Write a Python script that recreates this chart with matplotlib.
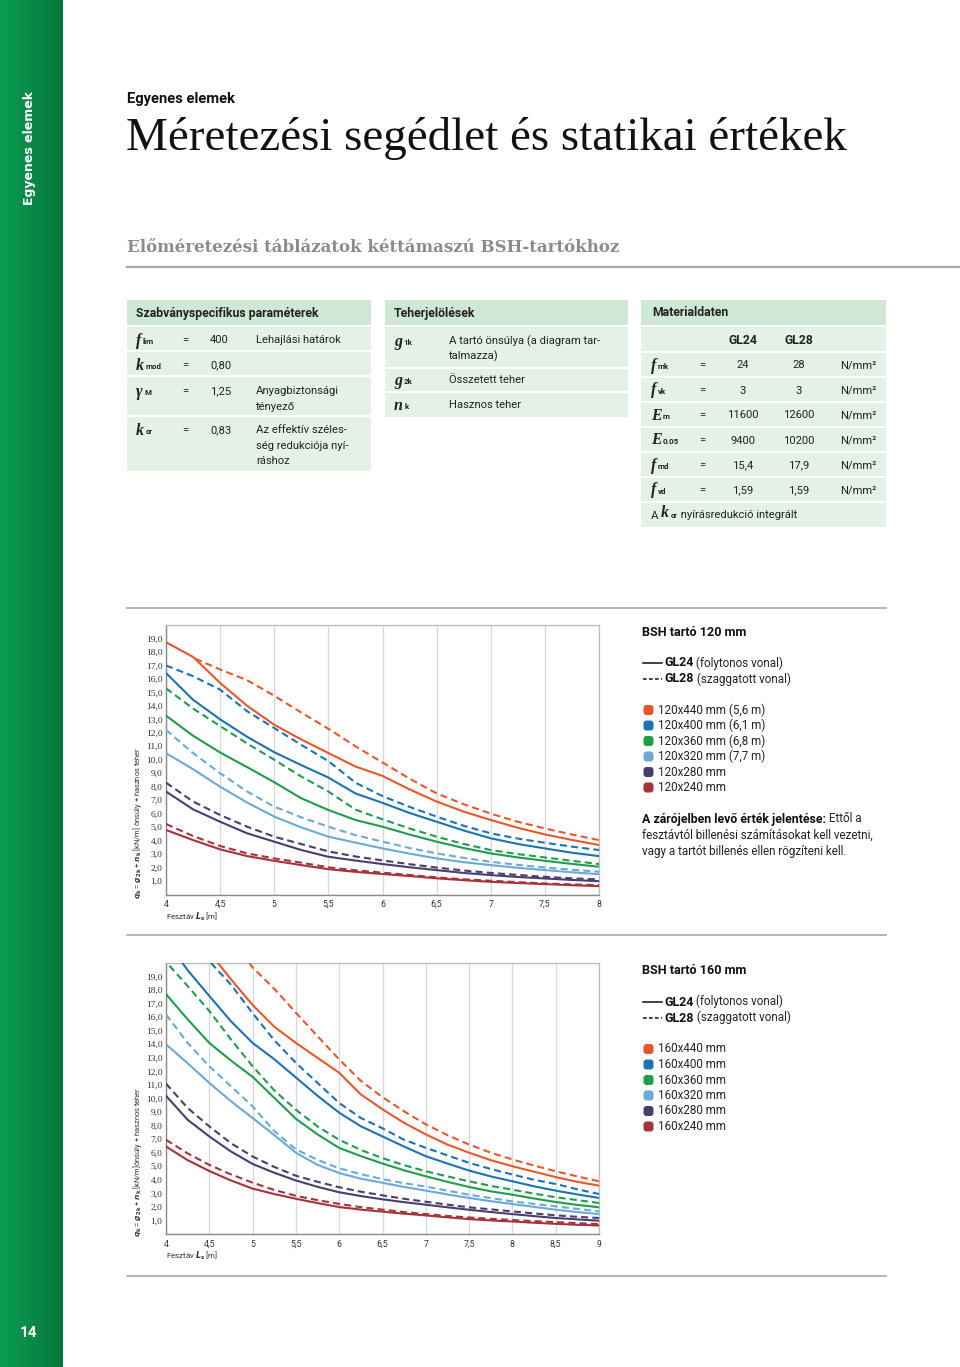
import matplotlib
matplotlib.use("Agg")
import matplotlib.pyplot as plt
import numpy as np
from matplotlib.patches import Rectangle, FancyBboxPatch
from matplotlib.colors import LinearSegmentedColormap

# ---------------- data ----------------
COLORS = ["#e8572b", "#1b72b6", "#1f9d4b", "#6ba9d6", "#4a3e70", "#a6333b"]

SIZES_120 = ["120x440 mm (5,6 m)", "120x400 mm (6,1 m)", "120x360 mm (6,8 m)",
             "120x320 mm (7,7 m)", "120x280 mm", "120x240 mm"]
SIZES_160 = ["160x440 mm", "160x400 mm", "160x360 mm", "160x320 mm", "160x280 mm", "160x240 mm"]

X1 = [4.0, 4.25, 4.5, 4.75, 5.0, 5.25, 5.5, 5.75, 6.0, 6.25, 6.5, 6.75, 7.0, 7.25, 7.5, 7.75, 8.0]
GL24_120 = [
    [18.72, 17.63, 15.7, 14.0, 12.6, 11.5, 10.5, 9.5, 8.8, 7.8, 6.9, 6.15, 5.53, 4.95, 4.46, 4.05, 3.67],
    [16.44, 14.45, 13.0, 11.7, 10.56, 9.6, 8.68, 7.5, 6.8, 6.05, 5.4, 4.75, 4.17, 3.75, 3.42, 3.1, 2.85],
    [13.27, 11.78, 10.54, 9.45, 8.33, 7.14, 6.27, 5.53, 5.03, 4.45, 3.92, 3.45, 3.05, 2.75, 2.5, 2.27, 2.06],
    [10.49, 9.3, 8.0, 6.82, 5.78, 4.98, 4.29, 3.85, 3.42, 3.03, 2.68, 2.4, 2.18, 1.98, 1.81, 1.65, 1.51],
    [7.64, 6.32, 5.4, 4.54, 3.92, 3.3, 2.8, 2.52, 2.26, 2.02, 1.81, 1.6, 1.44, 1.3, 1.19, 1.08, 0.99],
    [4.79, 4.04, 3.35, 2.85, 2.5, 2.18, 1.88, 1.68, 1.52, 1.37, 1.2, 1.06, 0.94, 0.85, 0.77, 0.69, 0.62],
]
GL28_120 = [
    [None, None, 16.7, 15.9, 14.75, 13.5, 12.3, 11.0, 9.8, 8.6, 7.5, 6.7, 6.0, 5.4, 4.9, 4.45, 4.04],
    [17.0, 16.2, 15.2, 13.6, 12.35, 11.1, 9.9, 8.3, 7.3, 6.5, 5.78, 5.1, 4.54, 4.15, 3.84, 3.55, 3.3],
    [15.3, 13.8, 12.5, 11.2, 10.0, 8.75, 7.64, 6.3, 5.58, 4.9, 4.29, 3.75, 3.3, 3.0, 2.75, 2.5, 2.26],
    [12.22, 10.49, 9.0, 7.64, 6.52, 5.73, 5.03, 4.41, 3.92, 3.45, 3.05, 2.72, 2.43, 2.2, 2.0, 1.84, 1.69],
    [8.3, 6.9, 5.9, 5.03, 4.29, 3.74, 3.2, 2.82, 2.53, 2.25, 2.0, 1.78, 1.6, 1.45, 1.31, 1.2, 1.12],
    [5.23, 4.34, 3.6, 3.05, 2.68, 2.36, 2.02, 1.8, 1.62, 1.45, 1.27, 1.13, 1.02, 0.92, 0.82, 0.75, 0.69],
]
LEAD24_120 = [None, None, None, None, None, None]
LEAD28_120 = [(4.27, 17.5), None, None, None, None, None]

X2 = [4.0, 4.25, 4.5, 4.75, 5.0, 5.25, 5.5, 5.75, 6.0, 6.25, 6.5, 6.75, 7.0,
      7.25, 7.5, 7.75, 8.0, 8.25, 8.5, 8.75, 9.0]
GL24_160 = [
    [None, None, None, 18.8, 16.9, 15.3, 14.1, 13.0, 11.9, 10.3, 9.2, 8.2, 7.35, 6.6, 6.0, 5.45, 5.0, 4.6, 4.2, 3.85, 3.57],
    [None, 19.47, 17.57, 15.7, 14.1, 12.9, 11.55, 10.2, 8.95, 7.95, 7.2, 6.45, 5.74, 5.2, 4.68, 4.25, 3.89, 3.52, 3.2, 2.92, 2.66],
    [17.7, 15.84, 14.1, 12.8, 11.6, 10.05, 8.5, 7.35, 6.35, 5.75, 5.2, 4.7, 4.26, 3.85, 3.47, 3.15, 2.9, 2.62, 2.36, 2.15, 1.97],
    [14.0, 12.6, 11.15, 9.8, 8.56, 7.3, 6.0, 5.1, 4.5, 4.08, 3.78, 3.47, 3.2, 2.92, 2.66, 2.42, 2.21, 2.0, 1.79, 1.62, 1.47],
    [10.2, 8.43, 7.2, 6.09, 5.17, 4.52, 3.95, 3.48, 3.08, 2.8, 2.56, 2.35, 2.16, 1.97, 1.79, 1.62, 1.47, 1.32, 1.18, 1.08, 0.98],
    [6.46, 5.45, 4.65, 3.95, 3.35, 2.95, 2.6, 2.28, 1.99, 1.8, 1.65, 1.5, 1.37, 1.23, 1.1, 1.0, 0.92, 0.83, 0.75, 0.68, 0.63],
]
GL28_160 = [
    [None, None, None, None, 19.67, 18.1, 16.33, 14.6, 12.88, 11.3, 10.1, 9.05, 8.09, 7.3, 6.6, 6.0, 5.5, 5.05, 4.63, 4.25, 3.89],
    [None, None, None, 18.4, 16.3, 14.3, 12.63, 11.15, 9.67, 8.56, 7.8, 6.95, 6.36, 5.8, 5.25, 4.8, 4.39, 4.0, 3.69, 3.3, 2.95],
    [None, 18.3, 16.46, 14.36, 12.38, 10.6, 9.17, 7.94, 6.95, 6.2, 5.6, 5.08, 4.63, 4.25, 3.89, 3.55, 3.27, 2.98, 2.71, 2.5, 2.29],
    [16.2, 14.1, 12.38, 10.9, 9.42, 7.6, 6.25, 5.47, 4.85, 4.42, 4.05, 3.75, 3.5, 3.2, 2.9, 2.65, 2.41, 2.22, 2.04, 1.85, 1.67],
    [11.1, 9.3, 7.94, 6.7, 5.72, 4.95, 4.3, 3.85, 3.45, 3.12, 2.85, 2.6, 2.38, 2.17, 1.97, 1.82, 1.67, 1.52, 1.38, 1.27, 1.18],
    [6.95, 5.95, 5.1, 4.4, 3.79, 3.25, 2.82, 2.5, 2.22, 1.98, 1.8, 1.62, 1.47, 1.33, 1.22, 1.12, 1.03, 0.95, 0.88, 0.8, 0.73],
]
LEAD24_160 = [(4.6, 20.0), (4.19, 20.0), None, None, None, None]
LEAD28_160 = [(4.96, 20.0), (4.52, 20.0), (4.04, 19.8), None, None, None]

XT1 = [4, 4.5, 5, 5.5, 6, 6.5, 7, 7.5, 8]
XT2 = [4, 4.5, 5, 5.5, 6, 6.5, 7, 7.5, 8, 8.5, 9]
YT = list(range(1, 20))

# ---------------- page ----------------
W, H = 960, 1367
BODY = ["Roboto", "DejaVu Sans"]
plt.rcParams["font.family"] = BODY
fig = plt.figure(figsize=(9.6, 13.67), dpi=100)
bg = fig.add_axes([0, 0, 1, 1])
bg.axis("off")

cmap = LinearSegmentedColormap.from_list("g", ["#0c9c53", "#06783c"])
bg.imshow(np.linspace(0, 1, 64).reshape(1, -1), extent=[0, 63, H, 0], aspect="auto", cmap=cmap, zorder=0)
bg.set_xlim(0, W)
bg.set_ylim(H, 0)

bg.text(30, 148, "Egyenes elemek", rotation=90, color="white", fontsize=9, fontweight="bold",
        family="DejaVu Sans", ha="center", va="center")
bg.text(28, 1333, "14", color="white", fontsize=11, fontweight="bold", ha="center", va="center")

bg.text(127, 99, "Egyenes elemek", fontsize=10.6, fontweight="bold", ha="left", va="center", color="#111")
bg.text(126, 138, "Méretezési segédlet és statikai értékek", fontsize=33.8, family="Liberation Serif",
        ha="left", va="center", color="#111")
bg.text(127, 247, "Előméretezési táblázatok kéttámaszú BSH-tartókhoz", fontsize=12, fontweight="bold",
        family="DejaVu Serif", ha="left", va="center", color="#8c8c8c")
bg.plot([127, 960], [267, 267], color="#a8a8a8", lw=1.6)

for yy in (608, 935, 1276):
    bg.plot([127, 886], [yy, yy], color="#a8a8a8", lw=1.2)

HEAD = "#cfe8d6"
ROW = "#e3f1e6"
TS = 8.1
TB = 8.8


def box(x0, x1, y0, y1, c):
    bg.add_patch(Rectangle((x0, y0), x1 - x0, y1 - y0, facecolor=c, edgecolor="none", zorder=1))


def txt(x, y, s, size=TS, bold=False, ha="left", color="#222"):
    return bg.text(x, y, s, fontsize=size, fontweight="bold" if bold else "normal", ha=ha, va="center",
                   color=color, zorder=3)


def sym(x, y, s, sub, size=11.5):
    t = bg.text(x, y, s, family="Liberation Serif", fontstyle="italic", fontweight="bold", fontsize=size,
                ha="left", va="center", color="#222", zorder=3)
    bg.annotate(sub, xy=(1, 0.22), xycoords=t, xytext=(1, 0), textcoords="offset points",
                fontsize=5.8, fontweight="bold", ha="left", va="bottom", color="#222", zorder=3)


# table 1
T1 = (127, 371)
box(*T1, 300, 325, HEAD)
txt(136, 313, "Szabványspecifikus paraméterek", size=TB, bold=True)
for (y0, y1) in [(327, 350), (352, 375), (377, 415), (417, 471)]:
    box(*T1, y0, y1, ROW)
sym(136, 341, "f", "lim")
txt(182, 340, "="); txt(210, 340, "400"); txt(256, 340, "Lehajlási határok")
sym(136, 366, "k", "mod")
txt(182, 365, "="); txt(210, 365, "0,80")
sym(136, 392, "γ", "M")
txt(182, 391, "="); txt(210, 391, "1,25"); txt(256, 391, "Anyagbiztonsági"); txt(256, 407, "tényező")
sym(136, 431, "k", "cr")
txt(182, 430, "="); txt(210, 430, "0,83"); txt(256, 430, "Az effektív széles-")
txt(256, 446, "ség redukciója nyí-"); txt(256, 461, "ráshoz")

# table 2
T2 = (385, 628)
box(*T2, 300, 325, HEAD)
txt(394, 313, "Teherjelölések", size=TB, bold=True)
for (y0, y1) in [(327, 367), (369, 391), (393, 417)]:
    box(*T2, y0, y1, ROW)
sym(394, 342, "g", "1k")
txt(449, 341, "A tartó önsúlya (a diagram tar-"); txt(449, 356, "talmazza)")
sym(394, 381, "g", "2k")
txt(449, 380, "Összetett teher")
sym(394, 406, "n", "k")
txt(449, 405, "Hasznos teher")

# table 3
T3 = (641, 886)
box(*T3, 300, 325, HEAD)
txt(652, 313, "Materialdaten", size=TB, bold=True)
rows3 = [(327, 351), (353, 376), (378, 401), (403, 426), (428, 451), (453, 476), (478, 501), (503, 527)]
for (y0, y1) in rows3:
    box(*T3, y0, y1, ROW)
txt(743, 340, "GL24", size=TB, bold=True, ha="center")
txt(799, 340, "GL28", size=TB, bold=True, ha="center")
MAT_SYM = [("f", "mk"), ("f", "vk"), ("E", "m"), ("E", "0.05"), ("f", "md"), ("f", "vd")]
MAT_24 = ["24", "3", "11600", "9400", "15,4", "1,59"]
MAT_28 = ["28", "3", "12600", "10200", "17,9", "1,59"]
for i, (y0, y1) in enumerate(rows3[1:7]):
    yc = (y0 + y1) / 2 + 1
    sym(651, yc, MAT_SYM[i][0], MAT_SYM[i][1])
    txt(702, yc, "=", ha="center")
    txt(743, yc, MAT_24[i], ha="center")
    txt(799, yc, MAT_28[i], ha="center")
    txt(876, yc, "N/mm²", ha="right")
t = txt(651, 516, "A ")
t2 = bg.annotate("k", xy=(1, 0), xycoords=t, fontsize=11.5, family="Liberation Serif", fontstyle="italic",
                 fontweight="bold", ha="left", va="bottom", color="#222", zorder=3)
t3 = bg.annotate("cr", xy=(1, 0.12), xycoords=t2, xytext=(1, 0), textcoords="offset points",
                 fontsize=5.8, fontweight="bold", ha="left", va="bottom", color="#222", zorder=3)
bg.annotate(" nyírásredukció integrált", xy=(1, -0.12), xycoords=t3, fontsize=TS, ha="left",
            va="bottom", color="#222", zorder=3)


# ---------------- charts ----------------
def draw_chart(top, bottom, X, s24, s28, l24, l28, xmax, xticks, ylabel):
    rect = [166 / W, 1 - bottom / H, (599 - 166) / W, (bottom - top) / H]
    ax = fig.add_axes(rect)
    for i, c in enumerate(COLORS):
        for ser, lead, dashed in ((s28[i], l28[i], True), (s24[i], l24[i], False)):
            xs = [x for x, v in zip(X, ser) if v is not None]
            ys = [v for v in ser if v is not None]
            if lead is not None:
                xs = [lead[0]] + xs
                ys = [lead[1]] + ys
            if dashed:
                ax.plot(xs, ys, color=c, lw=1.5, dashes=(3.4, 2.0), zorder=3)
            else:
                ax.plot(xs, ys, color=c, lw=1.5, zorder=4, solid_joinstyle="round")
    ax.set_xlim(4, xmax)
    ax.set_ylim(0, 20)
    ax.set_yticks(YT)
    ax.set_yticklabels([f"{v},0" for v in YT], family="Liberation Serif", fontsize=6.8, color="#333")
    ax.set_xticks(xticks)
    ax.set_xticklabels([("%g" % v).replace(".", ",") for v in xticks], fontsize=6.3, color="#333")
    ax.set_yticks(range(0, 21), minor=True)
    ax.grid(which="minor", axis="y", color="#d6d6de", lw=0.9)
    ax.grid(which="major", axis="x", color="#d6d6de", lw=0.9)
    ax.set_axisbelow(True)
    ax.tick_params(which="both", length=0)
    ax.tick_params(axis="y", pad=2.5)
    ax.tick_params(axis="x", pad=4)
    for sp in ("top", "right"):
        ax.spines[sp].set_color("#bdbdbd")
        ax.spines[sp].set_linewidth(0.9)
    for sp in ("left", "bottom"):
        ax.spines[sp].set_color("#8a8a8a")
        ax.spines[sp].set_linewidth(1.0)
    ycen = bottom - 72
    bg.text(137, ycen, ylabel, rotation=90, fontsize=5.4, ha="center", va="center", color="#333", zorder=3)
    bg.text(166, bottom + 22, r"Fesztáv $\boldsymbol{L}_{\mathbf{s}}$ [m]", fontsize=5.7, ha="left",
            va="center", color="#333", zorder=3)
    return ax


YL1 = r"$\boldsymbol{q}_{\mathbf{k}}$ = $\boldsymbol{g}_{\mathbf{2k}}$ + $\boldsymbol{n}_{\mathbf{k}}$ [kN/m] önsúly + hasznos teher"
YL2 = r"$\boldsymbol{q}_{\mathbf{k}}$ = $\boldsymbol{g}_{\mathbf{2k}}$ + $\boldsymbol{n}_{\mathbf{k}}$ [kN/m]önsúly + hasznos teher"
draw_chart(625, 894.5, X1, GL24_120, GL28_120, LEAD24_120, LEAD28_120, 8, XT1, YL1)
draw_chart(963, 1234, X2, GL24_160, GL28_160, LEAD24_160, LEAD28_160, 9, XT2, YL2)


# ---------------- legends ----------------
LS = 8.4
LB = 8.9


def legend_block(y_title, y_gl, y_sq, title, sizes, note):
    txt(642, y_title, title, size=9.1, bold=True, color="#111")
    bg.plot([643, 662], [y_gl, y_gl], color="#222", lw=1.2, zorder=3)
    a = txt(664, y_gl, "GL24", size=LB, bold=True, color="#111")
    bg.annotate(" (folytonos vonal)", xy=(1, 0), xycoords=a, fontsize=LS, ha="left", va="bottom",
                color="#222", zorder=3)
    bg.plot([643, 662], [y_gl + 16, y_gl + 16], color="#222", lw=1.2, dashes=(2.2, 1.4), zorder=3)
    b = txt(664, y_gl + 16, "GL28", size=LB, bold=True, color="#111")
    bg.annotate(" (szaggatott vonal)", xy=(1, 0), xycoords=b, fontsize=LS, ha="left", va="bottom",
                color="#222", zorder=3)
    for i, s in enumerate(sizes):
        yc = y_sq + i * 15.5
        bg.add_patch(FancyBboxPatch((643.5, yc - 5), 10, 10, boxstyle="round,pad=0,rounding_size=3",
                                    facecolor=COLORS[i], edgecolor="none", zorder=3))
        txt(658, yc, s, size=LS, color="#222")
    if note:
        n = txt(642, 819, "A zárójelben levő érték jelentése:", size=LB, bold=True, color="#111")
        bg.annotate(" Ettől a", xy=(1, 0), xycoords=n, fontsize=LS, ha="left", va="bottom",
                    color="#222", zorder=3)
        txt(642, 835, "fesztávtól billenési számításokat kell vezetni,", size=LS)
        txt(642, 851, "vagy a tartót billenés ellen rögzíteni kell.", size=LS)


legend_block(632, 663, 710, "BSH tartó 120 mm", SIZES_120, True)
legend_block(971, 1002, 1049, "BSH tartó 160 mm", SIZES_160, False)

fig.savefig("out.png", dpi=100)
